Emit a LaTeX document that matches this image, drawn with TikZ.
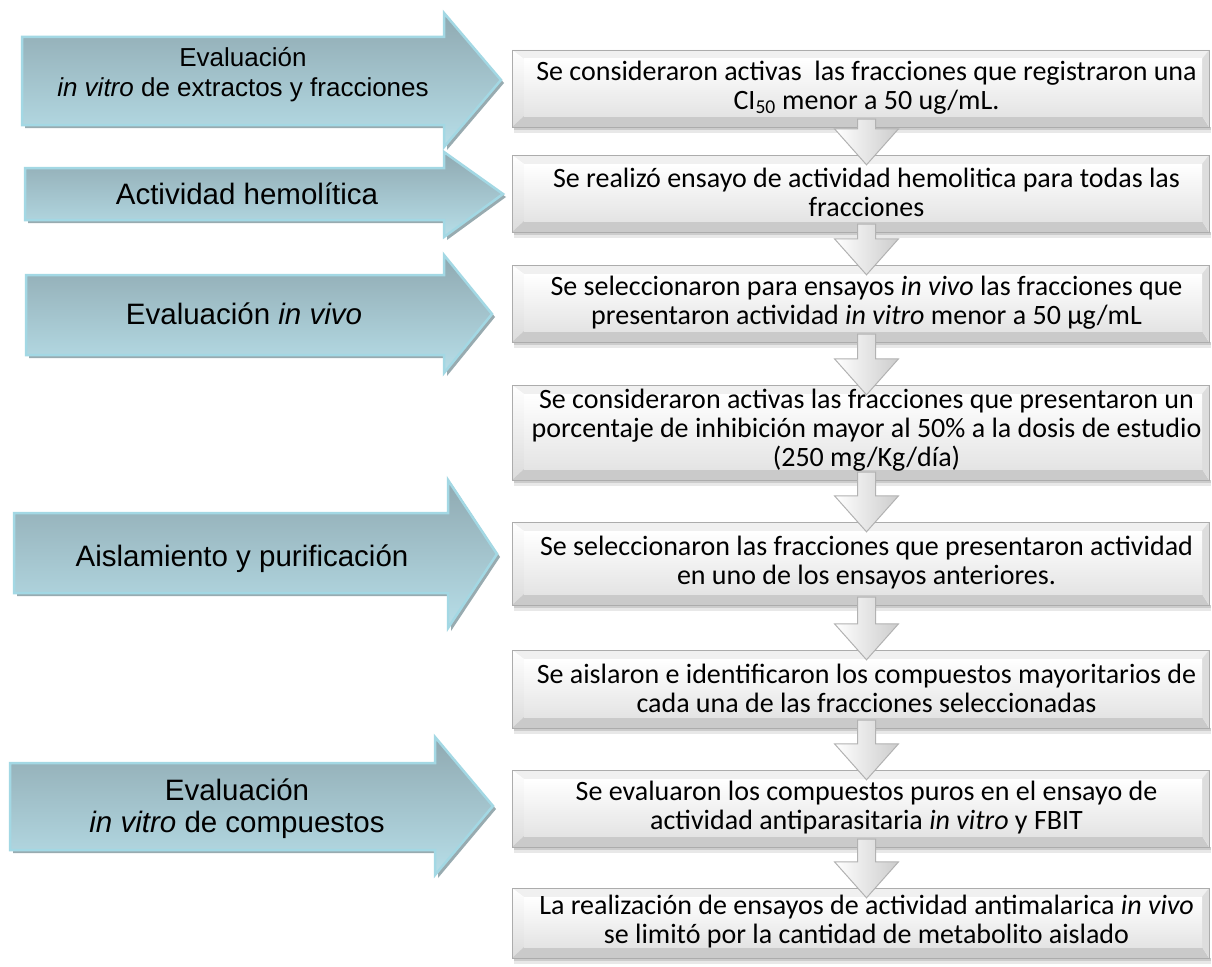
\documentclass[tikz,border=0pt]{standalone}
\usepackage{fontspec}
\setmainfont{Carlito}
\newfontfamily\arialf{Liberation Sans}
\usetikzlibrary{calc}
\definecolor{arrtop}{HTML}{8FA9B1}
\definecolor{arrbot}{HTML}{B7DEE8}
\definecolor{arredge}{HTML}{A3D8E4}
\definecolor{arrshadow}{HTML}{98ABB0}
\definecolor{bevtop}{HTML}{F0F0F0}
\definecolor{bevbot}{HTML}{CACACA}
\definecolor{bevright}{HTML}{DDDDDD}
\definecolor{facebot}{HTML}{E4E4E4}
\tikzset{
  boxtext/.style={font=\fontsize{28}{29}\selectfont, align=center, inner sep=0pt},
  arrtext/.style={font=\arialf\fontsize{29.5}{32}\selectfont, align=center, inner sep=0pt},
  arrtextsmall/.style={font=\arialf\fontsize{26}{30}\selectfont, align=center, inner sep=0pt},
  frame/.style={minimum width=697pt, inner sep=0pt, draw=none},
  darr/.style={left color=white, right color=gray!40, draw=gray!60, line width=1pt, line join=miter},
  larr/.style={top color=arrtop, bottom color=arrbot, draw=arredge, line width=2.5pt, line join=miter}
}
\newcommand\larrow[8]{%
  \fill[arrshadow] (#1+3,#2+3) -- (#4+3,#2+3) -- (#4+3,#5+3) -- (#7+3,#8+3) -- (#4+3,#6+3) -- (#4+3,#3+3) -- (#1+3,#3+3) -- cycle;
  \shadedraw[larr] (#1,#2) -- (#4,#2) -- (#4,#5) -- (#7,#8) -- (#4,#6) -- (#4,#3) -- (#1,#3) -- cycle;
}
\newcommand\mkbox[3]{%
  \fill[gray!40] (514,#3) rectangle (1211,#3+3);
  \fill[gray!18] (514,#3+3) rectangle (1211,#3+6);
  \node[frame, minimum height={#3-#2}] (#1) at (860.5,{(#2+#3)/2}) {};
  \fill[bevtop] (512,#2) -- (1209,#2) -- (1202,#2+9) -- (524,#2+9) -- cycle;
  \shade[top color=white,bottom color=gray!28] (512,#2) -- (524,#2+9) -- (524,#3-11) -- (512,#3) -- cycle;
  \fill[bevbot] (512,#3) -- (524,#3-11) -- (1202,#3-11) -- (1209,#3) -- cycle;
  \fill[bevright] (1209,#2) -- (1209,#3) -- (1202,#3-11) -- (1202,#2+9) -- cycle;
  \shade[top color=white,bottom color=facebot] (524,#2+9) rectangle (1202,#3-11);
  \draw[gray!65,line width=0.8pt] (512,#2) rectangle (1209,#3);
}
\newcommand\darrow[2]{%
  \shadedraw[darr] ($(#1.south)+(-3,-8)$) -- ($(#1.south)+(15,-8)$) -- ($(#2.north)+(15,-26)$) -- ($(#2.north)+(38,-26)$) -- ($(#2.north)+(6,10)$) -- ($(#2.north)+(-26,-26)$) -- ($(#2.north)+(-3,-26)$) -- cycle;
}
\begin{document}
\begin{tikzpicture}[x=1pt,y=-1pt]
\useasboundingbox (0,0) rectangle (1212,966);
\fill[white] (0,0) rectangle (1212,966);
% left arrows
\larrow{22}{37}{125}{444}{13}{147}{501}{80}
\larrow{25}{168}{220}{444}{152}{237}{503}{194}
\larrow{26}{275}{355}{444}{255}{373}{492}{314}
\larrow{14}{513}{593}{448}{480}{628}{497}{554}
\larrow{10}{763}{850}{435}{737}{875}{493}{806}
\node[arrtextsmall] (a1) at (243,75) {Evaluación\\ \textit{in vitro} de extractos y fracciones};
\node[arrtext, anchor=base] (a2) at (247,204) {Actividad hemolítica};
\node[arrtext, anchor=base] (a3) at (244,324) {Evaluación \textit{in vivo}};
\node[arrtext, anchor=base] (a4) at (242,566) {Aislamiento y purificación};
\node[arrtext] (a5) at (237,809) {Evaluación\\ \textit{in vitro} de compuestos};
% boxes
\mkbox{b1}{50}{127}
\mkbox{b2}{155}{232}
\mkbox{b3}{265}{342}
\mkbox{b4}{385}{480}
\mkbox{b5}{522}{605}
\mkbox{b6}{650}{728}
\mkbox{b7}{770}{847}
\mkbox{b8}{888}{958}
\node[boxtext] (t1) at ([xshift=6pt,yshift=1pt]b1.center) {Se consideraron activas\ \ las fracciones que registraron una\\ CI\textsubscript{50} menor a 50 ug/mL.};
\node[boxtext] (t2) at ([xshift=6pt,yshift=1pt]b2.center) {Se realizó ensayo de actividad hemolitica para todas las\\ fracciones};
\node[boxtext] (t3) at ([xshift=6pt,yshift=1pt]b3.center) {Se seleccionaron para ensayos \textit{in vivo} las fracciones que\\ presentaron actividad \textit{in vitro} menor a 50 μg/mL};
\node[boxtext] (t4) at ([xshift=6pt,yshift=2pt]b4.center) {Se consideraron activas las fracciones que presentaron un\\ porcentaje de inhibición mayor al 50\% a la dosis de estudio\\ (250 mg/Kg/día)};
\node[boxtext] (t5) at ([xshift=6pt,yshift=1pt]b5.center) {Se seleccionaron las fracciones que presentaron actividad\\ en uno de los ensayos anteriores.};
\node[boxtext] (t6) at ([xshift=6pt,yshift=1pt]b6.center) {Se aislaron e identificaron los compuestos mayoritarios de\\ cada una de las fracciones seleccionadas};
\node[boxtext] (t7) at ([xshift=6pt,yshift=1pt]b7.center) {Se evaluaron los compuestos puros en el ensayo de\\ actividad antiparasitaria \textit{in vitro} y FBIT};
\node[boxtext] (t8) at ([xshift=6pt,yshift=1pt]b8.center) {La realización de ensayos de actividad antimalarica \textit{in vivo}\\ se limitó por la cantidad de metabolito aislado};
% down arrows
\darrow{b1}{b2}
\darrow{b2}{b3}
\darrow{b3}{b4}
\darrow{b4}{b5}
\darrow{b5}{b6}
\darrow{b6}{b7}
\darrow{b7}{b8}
\end{tikzpicture}
\end{document}
